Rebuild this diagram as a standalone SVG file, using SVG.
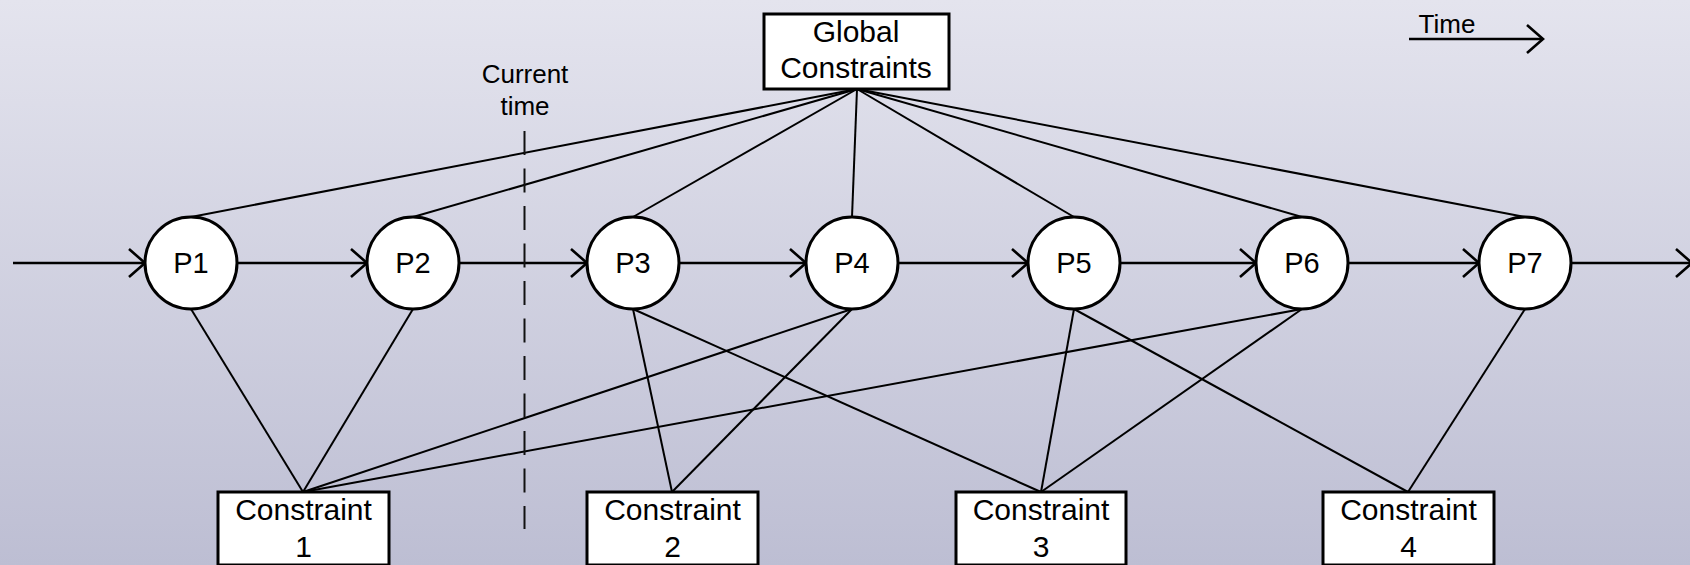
<svg xmlns="http://www.w3.org/2000/svg" width="1690" height="565" viewBox="0 0 1690 565">
<defs>
<linearGradient id="bg" x1="0" y1="0" x2="0" y2="1">
<stop offset="0" stop-color="#e4e4ee"/>
<stop offset="1" stop-color="#bdbed3"/>
</linearGradient>
<marker id="arr" markerUnits="userSpaceOnUse" markerWidth="22" markerHeight="34" viewBox="-2 -2 22 34" refX="16" refY="14" orient="auto">
<path d="M0,0 L16,14 L0,28" fill="none" stroke="#000" stroke-width="2.6"/>
</marker>
<style>
.node{fill:#fff;stroke:#000;stroke-width:3}
.box{fill:#fff;stroke:#000;stroke-width:3}
.lbl{font-family:"Liberation Sans",Arial,sans-serif;fill:#000;text-anchor:middle}
.p{font-size:29px}
.b{font-size:30px}
.small{font-size:26px}
.link{stroke:#000;stroke-width:2;fill:none}
.flow{stroke:#000;stroke-width:2.6;fill:none;marker-end:url(#arr)}
</style>
</defs>
<rect x="0" y="0" width="1690" height="565" fill="url(#bg)"/>

<g id="connectors">
<!-- global to processes -->
<line class="link" x1="857" y1="89" x2="191" y2="217"/>
<line class="link" x1="857" y1="89" x2="413" y2="217"/>
<line class="link" x1="857" y1="89" x2="633" y2="217"/>
<line class="link" x1="857" y1="89" x2="852" y2="217"/>
<line class="link" x1="857" y1="89" x2="1074" y2="217"/>
<line class="link" x1="857" y1="89" x2="1302" y2="217"/>
<line class="link" x1="857" y1="89" x2="1525" y2="217"/>
<!-- processes to constraints -->
<line class="link" x1="191" y1="309" x2="303" y2="492"/>
<line class="link" x1="413" y1="309" x2="303" y2="492"/>
<line class="link" x1="852" y1="309" x2="303" y2="492"/>
<line class="link" x1="1302" y1="309" x2="303" y2="492"/>
<line class="link" x1="633" y1="309" x2="672" y2="492"/>
<line class="link" x1="852" y1="309" x2="672" y2="492"/>
<line class="link" x1="633" y1="309" x2="1041" y2="492"/>
<line class="link" x1="1074" y1="309" x2="1041" y2="492"/>
<line class="link" x1="1302" y1="309" x2="1041" y2="492"/>
<line class="link" x1="1074" y1="309" x2="1408" y2="492"/>
<line class="link" x1="1525" y1="309" x2="1408" y2="492"/>
<!-- time flow -->
<line class="flow" x1="13" y1="263" x2="145" y2="263"/>
<line class="flow" x1="236" y1="263" x2="367" y2="263"/>
<line class="flow" x1="459" y1="263" x2="587" y2="263"/>
<line class="flow" x1="679" y1="263" x2="806" y2="263"/>
<line class="flow" x1="898" y1="263" x2="1028" y2="263"/>
<line class="flow" x1="1120" y1="263" x2="1256" y2="263"/>
<line class="flow" x1="1348" y1="263" x2="1479" y2="263"/>
<line class="flow" x1="1571" y1="263" x2="1692" y2="263"/>
<line class="flow" x1="1409" y1="39" x2="1543" y2="39"/>
</g>

<g id="current-time">
<line x1="524.5" y1="131" x2="524.5" y2="529" stroke="#111" stroke-width="2" stroke-dasharray="24 13.5"/>
<text class="lbl small" x="525" y="83">Current</text>
<text class="lbl small" x="525" y="115">time</text>
</g>

<g id="time-legend">
<text class="lbl small" x="1447" y="33">Time</text>
</g>

<g id="global">
<rect class="box" x="764" y="14" width="185" height="75"/>
<text class="lbl b" x="856" y="42">Global</text>
<text class="lbl b" x="856" y="78">Constraints</text>
</g>

<g id="P1"><circle class="node" cx="191" cy="263" r="46"/><text class="lbl p" x="191" y="273">P1</text></g>
<g id="P2"><circle class="node" cx="413" cy="263" r="46"/><text class="lbl p" x="413" y="273">P2</text></g>
<g id="P3"><circle class="node" cx="633" cy="263" r="46"/><text class="lbl p" x="633" y="273">P3</text></g>
<g id="P4"><circle class="node" cx="852" cy="263" r="46"/><text class="lbl p" x="852" y="273">P4</text></g>
<g id="P5"><circle class="node" cx="1074" cy="263" r="46"/><text class="lbl p" x="1074" y="273">P5</text></g>
<g id="P6"><circle class="node" cx="1302" cy="263" r="46"/><text class="lbl p" x="1302" y="273">P6</text></g>
<g id="P7"><circle class="node" cx="1525" cy="263" r="46"/><text class="lbl p" x="1525" y="273">P7</text></g>

<g id="C1"><rect class="box" x="218" y="492" width="171" height="73"/><text class="lbl b" x="303.5" y="520">Constraint</text><text class="lbl b" x="303.5" y="557">1</text></g>
<g id="C2"><rect class="box" x="587" y="492" width="171" height="73"/><text class="lbl b" x="672.5" y="520">Constraint</text><text class="lbl b" x="672.5" y="557">2</text></g>
<g id="C3"><rect class="box" x="956" y="492" width="170" height="73"/><text class="lbl b" x="1041" y="520">Constraint</text><text class="lbl b" x="1041" y="557">3</text></g>
<g id="C4"><rect class="box" x="1323" y="492" width="171" height="73"/><text class="lbl b" x="1408.5" y="520">Constraint</text><text class="lbl b" x="1408.5" y="557">4</text></g>
</svg>
